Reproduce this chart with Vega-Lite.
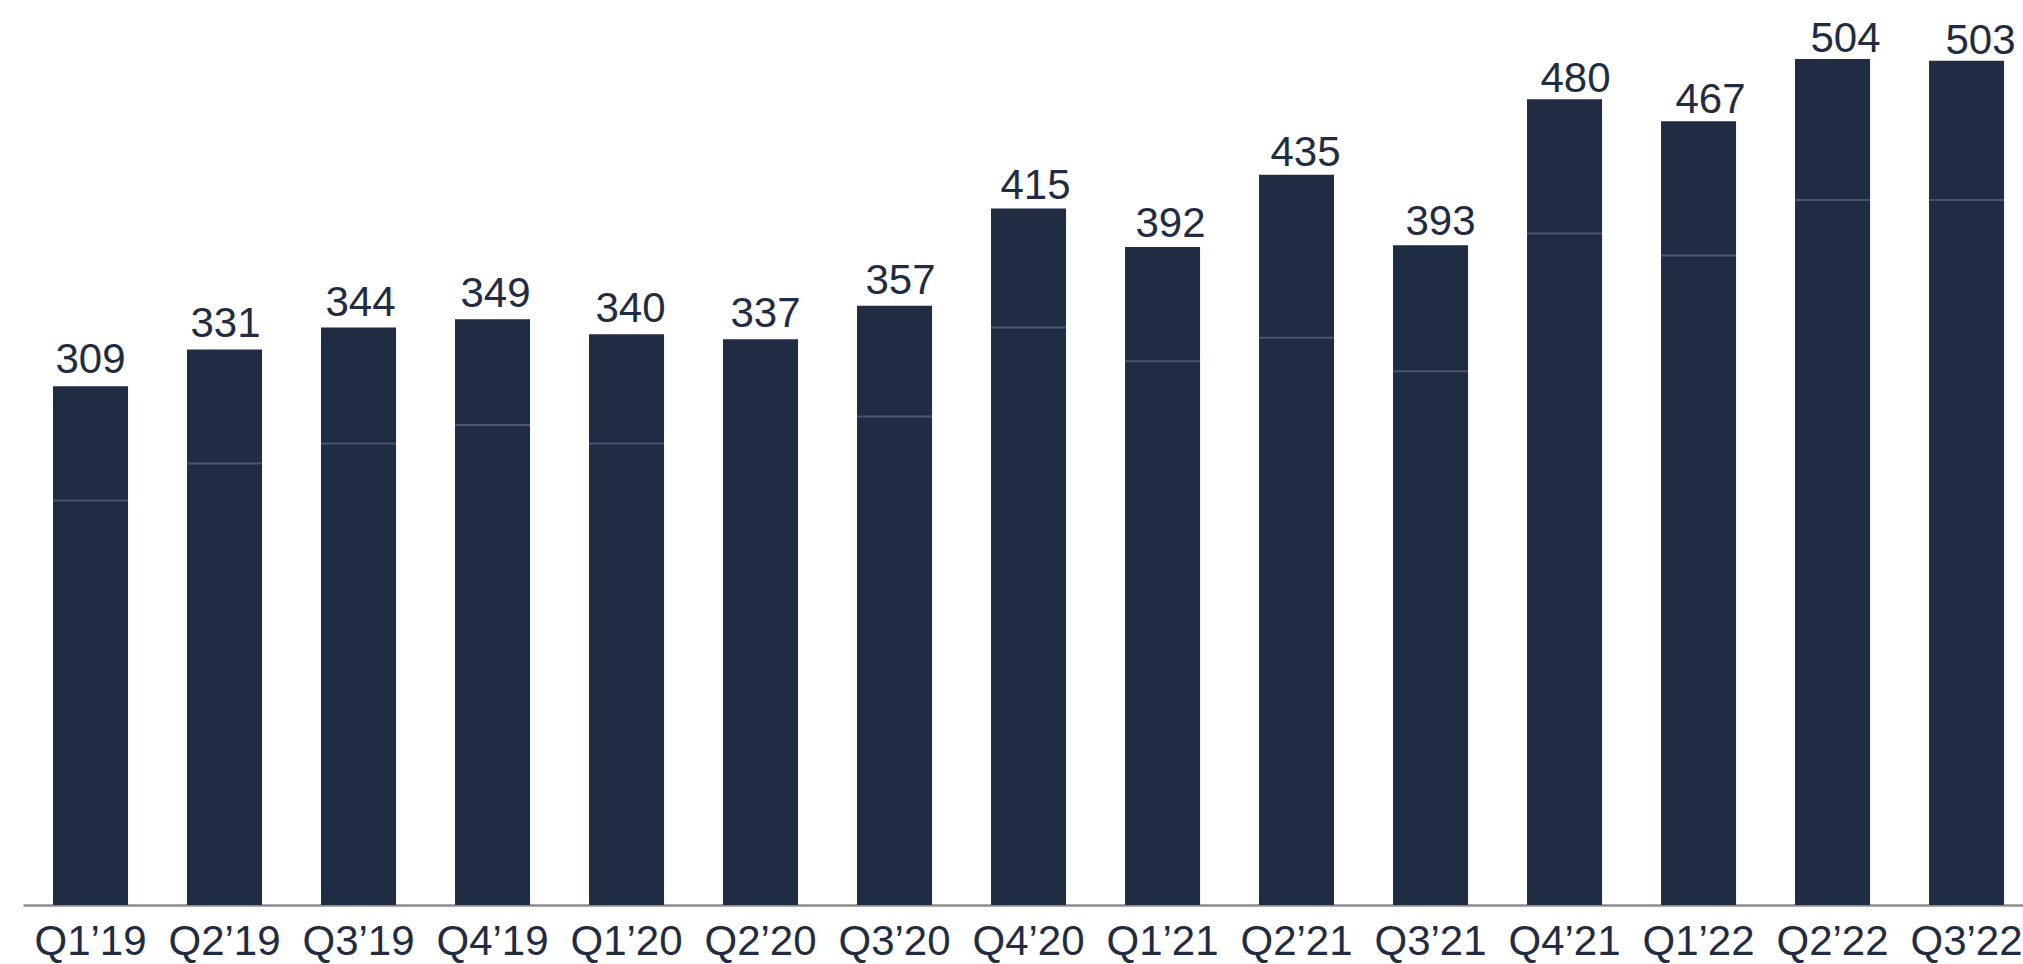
{
  "$schema": "https://vega.github.io/schema/vega-lite/v6.json",
  "width": 2000,
  "height": 898,
  "autosize": {"type": "none"},
  "padding": {"left": 23, "top": 7, "right": 0, "bottom": 59},
  "background": "white",
  "config": {
    "view": {"stroke": null},
    "font": "Liberation Sans",
    "axis": {
      "domainColor": "#8c8c8c",
      "domainWidth": 2.5,
      "ticks": false,
      "grid": false,
      "labelFont": "Liberation Sans",
      "labelFontSize": 42,
      "labelColor": "#1f2c42",
      "labelPadding": 16,
      "labelAngle": 0,
      "title": null
    }
  },
  "data": {
    "values": [
      {"quarter": "Q1’19", "total": 309, "lower": 241},
      {"quarter": "Q2’19", "total": 331, "lower": 263},
      {"quarter": "Q3’19", "total": 344, "lower": 275},
      {"quarter": "Q4’19", "total": 349, "lower": 286},
      {"quarter": "Q1’20", "total": 340, "lower": 275},
      {"quarter": "Q2’20", "total": 337, "lower": null},
      {"quarter": "Q3’20", "total": 357, "lower": 291},
      {"quarter": "Q4’20", "total": 415, "lower": 344},
      {"quarter": "Q1’21", "total": 392, "lower": 324},
      {"quarter": "Q2’21", "total": 435, "lower": 338},
      {"quarter": "Q3’21", "total": 393, "lower": 318},
      {"quarter": "Q4’21", "total": 480, "lower": 400},
      {"quarter": "Q1’22", "total": 467, "lower": 387},
      {"quarter": "Q2’22", "total": 504, "lower": 420},
      {"quarter": "Q3’22", "total": 503, "lower": 420}
    ]
  },
  "layer": [
    {
      "layer": [
        {
          "mark": {"type": "bar", "color": "#1f2c42"},
          "encoding": {
            "x": {
              "field": "quarter", "type": "ordinal", "sort": null,
              "scale": {"paddingInner": 0.44, "paddingOuter": 0.1826, "align": 0.613}
            },
            "y": {
              "field": "total", "type": "quantitative",
              "scale": {"domain": [0, 535], "nice": false}, "axis": null
            }
          }
        },
        {
          "transform": [{"filter": "datum.lower != null"}],
          "mark": {"type": "tick", "color": "#5d6880", "thickness": 2, "size": 75},
          "encoding": {
            "x": {"field": "quarter", "type": "ordinal", "sort": null},
            "y": {"field": "lower", "type": "quantitative"}
          }
        }
      ]
    },
    {
      "mark": {"type": "text", "fontSize": 42, "color": "#1f2c42", "baseline": "alphabetic", "dy": -23, "font": "Liberation Sans"},
      "encoding": {
        "x": {
          "field": "quarter", "type": "ordinal", "sort": null,
          "scale": {"type": "point", "padding": 0.4074, "align": 0.614},
          "axis": null
        },
        "y": {
          "field": "total", "type": "quantitative",
          "scale": {"domain": [0, 545.5], "nice": false}, "axis": null
        },
        "text": {"field": "total"}
      }
    }
  ],
  "resolve": {"scale": {"x": "independent", "y": "independent"}}
}
